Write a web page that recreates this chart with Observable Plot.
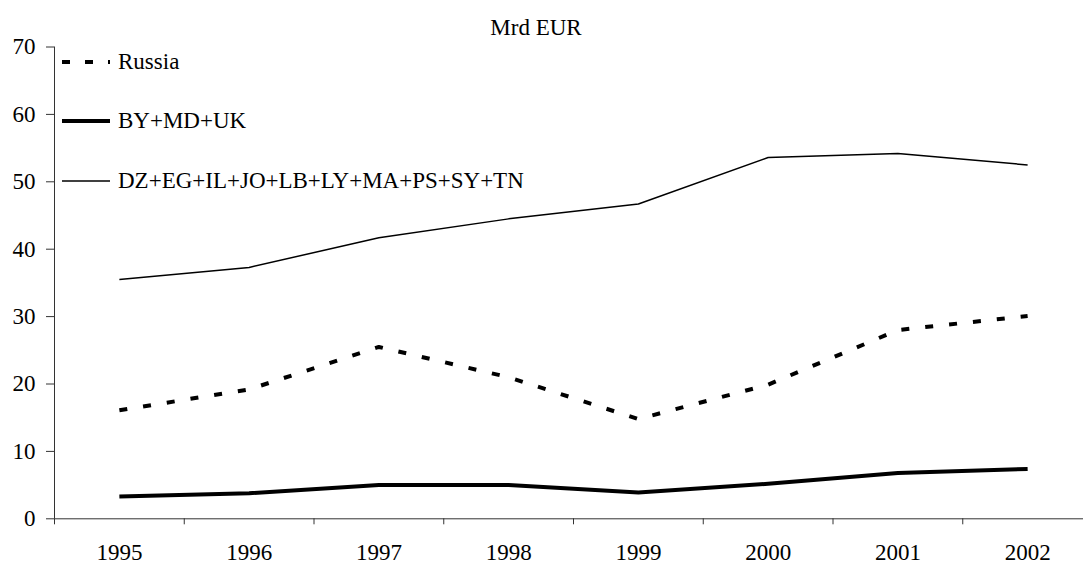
<!DOCTYPE html>
<html>
<head>
<meta charset="utf-8">
<script src="https://cdn.jsdelivr.net/npm/d3@7"></script>
<script src="https://cdn.jsdelivr.net/npm/@observablehq/plot@0.6"></script>
<style>
  html, body { margin: 0; padding: 0; background: white; }
  #wrap { position: relative; width: 1083px; height: 565px; overflow: hidden; font-family: "Liberation Serif", "Times New Roman", serif; color: #000; }
  #subtitle { position: absolute; top: 14px; left: 0; width: 1072px; text-align: center; font-size: 23px; line-height: 28px; }
  #legend { position: absolute; left: 62px; top: 32px; font-size: 23px; }
  .row { display: flex; align-items: center; height: 59.5px; }
  .row svg { display: block; }
  .row span { margin-left: 8px; white-space: nowrap; }
</style>
</head>
<body>
<div id="wrap">
  <div id="chart"></div>
  <div id="subtitle">Mrd EUR</div>
  <div id="legend"></div>
</div>
<script>
const years = [1995, 1996, 1997, 1998, 1999, 2000, 2001, 2002];
const russia = [16.1, 19.2, 25.5, 21.0, 14.8, 19.9, 28.0, 30.1];
const byMdUk = [3.3, 3.8, 5.0, 5.0, 3.9, 5.2, 6.8, 7.4];
const medPartners = [35.5, 37.3, 41.7, 44.5, 46.7, 53.6, 54.2, 52.5];
const seriesNames = ["Russia", "BY+MD+UK", "DZ+EG+IL+JO+LB+LY+MA+PS+SY+TN"];
const yTicks = [0, 10, 20, 30, 40, 50, 60, 70];

const seriesStyles = [
  {strokeWidth: 4, strokeDasharray: "8,16", strokeLinecap: "butt", legendDash: "8,15"},
  {strokeWidth: 4, strokeDasharray: null, strokeLinecap: "butt", legendDash: null},
  {strokeWidth: 1.5, strokeDasharray: null, strokeLinecap: "butt", legendDash: null}
];
const seriesValues = [russia, byMdUk, medPartners];

const xDomain = [years[0] - 0.5, years[years.length - 1] + 0.5];
const boundaries = years.map(y => y - 0.5).concat([years[years.length - 1] + 0.5]);

const lineMarks = seriesValues.map((vals, s) => {
  const rows = years.map((yr, i) => ({year: yr, value: vals[i], series: seriesNames[s]}));
  const st = seriesStyles[s];
  const opts = {x: "year", y: "value", stroke: "#000", strokeWidth: st.strokeWidth, strokeLinecap: st.strokeLinecap, strokeLinejoin: "round"};
  if (st.strokeDasharray) opts.strokeDasharray = st.strokeDasharray;
  return Plot.lineY(rows, opts);
});

const chart = Plot.plot({
  width: 1083,
  height: 565,
  marginLeft: 54,
  marginRight: 0,
  marginTop: 46.5,
  marginBottom: 46.7,
  style: {fontFamily: "'Liberation Serif', 'Times New Roman', serif", fontSize: "23px", color: "#000", background: "white"},
  x: {domain: xDomain, range: [54, 1092]},
  y: {domain: [yTicks[0], yTicks[yTicks.length - 1]]},
  marks: [
    Plot.axisY({ticks: yTicks, tickSize: 8, tickPadding: 11, label: null, tickFormat: d => String(d), stroke: "#333"}),
    Plot.axisX({ticks: boundaries, tickSize: 6, tickFormat: () => "", label: null, stroke: "#333"}),
    Plot.axisX({ticks: years, tickSize: 0, tickPadding: 25, tickFormat: d => String(d), label: null}),
    Plot.ruleX([xDomain[0]], {y1: yTicks[0], y2: yTicks[yTicks.length - 1], stroke: "#333"}),
    Plot.ruleY([0], {stroke: "#333"}),
    ...lineMarks
  ]
});
document.getElementById("chart").appendChild(chart);

const legend = document.getElementById("legend");
seriesNames.forEach((name, s) => {
  const st = seriesStyles[s];
  const row = document.createElement("div");
  row.className = "row";
  const dash = st.legendDash ? ` stroke-dasharray="${st.legendDash}"` : "";
  row.innerHTML = `<svg width="48" height="10"><line x1="0" y1="5" x2="48" y2="5" stroke="#000" stroke-width="${st.strokeWidth}"${dash}/></svg><span>${name}</span>`;
  legend.appendChild(row);
});
</script>
</body>
</html>
